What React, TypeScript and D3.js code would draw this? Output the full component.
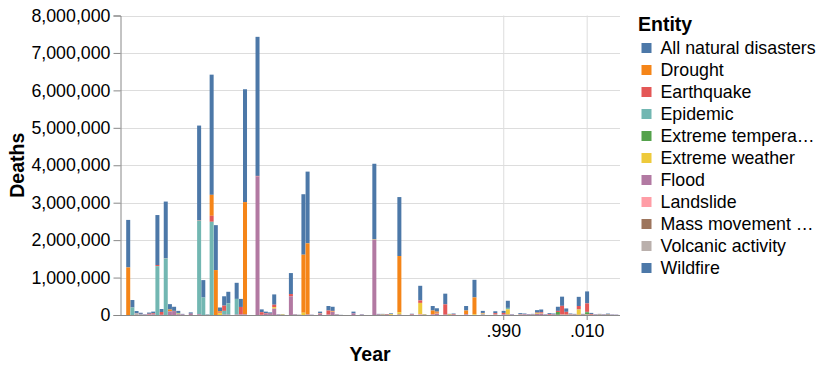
import React, { useRef, useEffect } from 'react';
import * as d3 from 'd3';

type Pair = [number, number];

const entities = [
  'All natural disasters', 'Drought', 'Earthquake', 'Epidemic', 'Extreme temperature',
  'Extreme weather', 'Flood', 'Landslide', 'Mass movement (dry)', 'Volcanic activity', 'Wildfire',
];
const legendLabels = [
  'All natural disasters', 'Drought', 'Earthquake', 'Epidemic', 'Extreme tempera…',
  'Extreme weather', 'Flood', 'Landslide', 'Mass movement …', 'Volcanic activity', 'Wildfire',
];
const colors = [
  '#4c78a8', '#f58518', '#e45756', '#72b7b2', '#54a24b',
  '#eeca3b', '#b279a2', '#ff9da6', '#9d755d', '#bab0ac', '#4c78a8',
];

const years = d3.range(1900, 2018);
const yTicks = [0, 1000000, 2000000, 3000000, 4000000, 5000000, 6000000, 7000000, 8000000];
const xTickYears = [1990, 2010];
const xTickLabels = ['.990', '.010'];

// deaths per year, [year, deaths]; missing years are zero
const allNaturalDisasters: Pair[] = [
  [1900, 1270000], [1901, 200000], [1902, 53000], [1903, 30000], [1904, 10000], [1905, 33000],
  [1906, 45000], [1907, 1335000], [1908, 80000], [1909, 1515000], [1910, 145000], [1911, 110000],
  [1912, 55000], [1913, 15000], [1915, 35000], [1917, 2530000], [1918, 466000], [1919, 10000],
  [1920, 3210000], [1921, 1200000], [1922, 100000], [1923, 250000], [1924, 310000], [1926, 430000],
  [1927, 215000], [1928, 3015000], [1931, 3715000], [1932, 75000], [1933, 45000], [1934, 35000],
  [1935, 275000], [1936, 10000], [1937, 12000], [1939, 560000], [1940, 10000], [1941, 4000],
  [1942, 1615000], [1943, 1915000], [1944, 5000], [1946, 45000], [1948, 120000], [1949, 110000],
  [1950, 10000], [1951, 3000], [1954, 45000], [1956, 10000], [1959, 2020000], [1960, 15000],
  [1961, 15000], [1962, 12000], [1963, 22000], [1965, 1575000], [1968, 17000], [1970, 390000],
  [1971, 12000], [1973, 120000], [1974, 90000], [1976, 285000], [1977, 15000], [1978, 20000],
  [1981, 120000], [1983, 470000], [1985, 55000], [1988, 50000], [1990, 55000], [1991, 190000],
  [1992, 10000], [1994, 25000], [1995, 20000], [1996, 12000], [1997, 15000], [1998, 65000],
  [1999, 75000], [2000, 10000], [2001, 25000], [2002, 20000], [2003, 110000], [2004, 245000],
  [2005, 90000], [2006, 20000], [2007, 15000], [2008, 245000], [2009, 15000], [2010, 320000],
  [2011, 28000], [2012, 10000], [2013, 15000], [2014, 10000], [2015, 19000], [2016, 8000],
  [2017, 6000],
];
const drought: Pair[] = [
  [1900, 1270000], [1910, 50000], [1920, 560000], [1921, 1200000], [1922, 30000], [1928, 3000000],
  [1942, 1550000], [1943, 1900000], [1965, 1500000], [1973, 100000], [1974, 30000], [1981, 95000],
  [1983, 450000], [1998, 5000],
];
const earthquake: Pair[] = [
  [1902, 8000], [1903, 5000], [1905, 20000], [1906, 20000], [1907, 30000], [1908, 75000],
  [1909, 5000], [1915, 5000], [1917, 10000], [1920, 160000], [1922, 20000], [1923, 140000],
  [1927, 200000], [1931, 15000], [1932, 70000], [1933, 15000], [1934, 10000], [1935, 65000],
  [1939, 60000], [1940, 5000], [1943, 5000], [1946, 10000], [1948, 110000], [1949, 20000],
  [1950, 5000], [1960, 5000], [1962, 12000], [1968, 12000], [1970, 67000], [1973, 10000],
  [1974, 20000], [1976, 275000], [1978, 15000], [1981, 10000], [1985, 10000], [1988, 25000],
  [1990, 40000], [1995, 6000], [1998, 10000], [1999, 25000], [2001, 20000], [2003, 30000],
  [2004, 230000], [2005, 75000], [2006, 6000], [2008, 90000], [2010, 227000], [2011, 20000],
  [2015, 9000],
];
const epidemic: Pair[] = [
  [1901, 200000], [1902, 10000], [1903, 15000], [1907, 1305000], [1909, 1510000], [1912, 10000],
  [1917, 2500000], [1918, 465000], [1919, 5000], [1920, 2490000], [1923, 100000], [1924, 300000],
  [1926, 420000], [1991, 35000], [2010, 10000],
];
const extremeTemperature: Pair[] = [
  [1912, 10000], [1991, 5000], [2002, 5000], [2003, 75000], [2008, 5000], [2010, 57000], [2015, 7000],
];
const extremeWeather: Pair[] = [
  [1906, 5000], [1911, 5000], [1912, 15000], [1922, 50000], [1935, 40000], [1937, 12000],
  [1942, 61000], [1946, 5000], [1949, 10000], [1959, 10000], [1961, 10000], [1963, 20000],
  [1965, 60000], [1970, 300000], [1971, 12000], [1974, 10000], [1977, 15000], [1983, 20000],
  [1985, 15000], [1988, 10000], [1991, 140000], [1994, 10000], [1997, 5000], [1998, 20000],
  [1999, 12000], [2004, 5000], [2005, 5000], [2006, 5000], [2007, 5000], [2008, 140000],
  [2009, 5000], [2010, 5000], [2011, 3000], [2013, 8000],
];
const flood: Pair[] = [
  [1902, 5000], [1903, 10000], [1904, 10000], [1905, 10000], [1906, 20000], [1908, 5000],
  [1910, 95000], [1911, 105000], [1912, 20000], [1913, 15000], [1915, 30000], [1917, 20000],
  [1923, 10000], [1924, 10000], [1926, 10000], [1927, 15000], [1928, 15000], [1931, 3700000],
  [1932, 5000], [1933, 30000], [1934, 25000], [1935, 170000], [1936, 10000], [1939, 500000],
  [1940, 5000], [1943, 10000], [1944, 5000], [1946, 30000], [1948, 10000], [1949, 80000],
  [1950, 5000], [1954, 45000], [1956, 10000], [1959, 2010000], [1960, 10000], [1961, 5000],
  [1965, 15000], [1968, 5000], [1970, 10000], [1973, 10000], [1974, 30000], [1976, 10000],
  [1978, 5000], [1981, 15000], [1985, 7000], [1988, 15000], [1990, 15000], [1991, 10000],
  [1992, 10000], [1994, 15000], [1995, 14000], [1996, 12000], [1997, 10000], [1998, 30000],
  [1999, 35000], [2000, 10000], [2001, 5000], [2002, 15000], [2003, 5000], [2004, 10000],
  [2005, 5000], [2006, 9000], [2007, 10000], [2008, 5000], [2009, 10000], [2010, 8000],
  [2011, 5000], [2012, 10000], [2013, 7000], [2014, 10000], [2015, 3000], [2016, 8000],
  [2017, 6000],
];
const landslide: Pair[] = [[1905, 2000], [1963, 2000], [1970, 13000], [2010, 3000]];
const massMovement: Pair[] = [[1941, 4000]];
const volcanicActivity: Pair[] = [[1902, 30000], [1919, 5000], [1951, 3000], [1985, 23000]];
const wildfire: Pair[] = [[1918, 1000], [2009, 200]];

const seriesList: Pair[][] = [
  allNaturalDisasters, drought, earthquake, epidemic, extremeTemperature,
  extremeWeather, flood, landslide, massMovement, volcanicActivity, wildfire,
];

const W = 824;
const H = 372;
const FONT = '"Liberation Sans", Arial, sans-serif';

export default function App() {
  const ref = useRef<SVGSVGElement | null>(null);

  useEffect(() => {
    if (!ref.current) return;
    const svg = d3.select(ref.current);
    svg.selectAll('*').remove();

    const plot = { left: 120, right: 620, top: 15.5, bottom: 315 };

    // one row per year, one column per entity
    const table = years.map(year => {
      const row: Record<string, number> = { year };
      entities.forEach((e, i) => {
        const hit = seriesList[i].find(p => p[0] === year);
        row[e] = hit ? hit[1] : 0;
      });
      return row;
    });

    const x = d3.scaleBand<number>().domain(years).range([126.2, 618.3]).paddingInner(0.04);
    const y = d3.scaleLinear().domain([0, 8000000]).range([plot.bottom, plot.top]);
    const color = d3.scaleOrdinal<string, string>().domain(entities).range(colors);

    // gridlines
    svg.append('g')
      .selectAll('line')
      .data(yTicks)
      .join('line')
      .attr('x1', plot.left).attr('x2', plot.right)
      .attr('y1', d => Math.round(y(d)) + 0.5).attr('y2', d => Math.round(y(d)) + 0.5)
      .attr('stroke', '#ddd');
    svg.append('g')
      .selectAll('line')
      .data(xTickYears)
      .join('line')
      .attr('x1', d => (x(d) ?? 0) + x.step() / 2).attr('x2', d => (x(d) ?? 0) + x.step() / 2)
      .attr('y1', plot.top).attr('y2', plot.bottom)
      .attr('stroke', '#ddd');

    // stacked bars, first entity on top
    const stacked = d3.stack<Record<string, number>>()
      .keys(entities)
      .order(d3.stackOrderReverse)(table);

    svg.append('g')
      .selectAll('g')
      .data(stacked)
      .join('g')
      .attr('fill', d => color(d.key))
      .selectAll('rect')
      .data(d => d.filter(s => s[1] - s[0] > 0))
      .join('rect')
      .attr('x', d => x(d.data.year as number) ?? 0)
      .attr('width', x.bandwidth())
      .attr('y', d => y(d[1]))
      .attr('height', d => y(d[0]) - y(d[1]));

    // y axis
    const yAxis = svg.append('g')
      .attr('transform', `translate(${plot.left + 0.5},0)`)
      .call(d3.axisLeft(y).tickValues(yTicks).tickSize(7).tickPadding(3).tickFormat(d3.format(',')));
    yAxis.selectAll('.domain, .tick line').attr('stroke', '#888');
    yAxis.selectAll('.tick text')
      .attr('fill', '#000')
      .style('font-family', FONT)
      .style('font-size', '17.8px');

    // x axis
    svg.append('line')
      .attr('x1', plot.left).attr('x2', plot.right)
      .attr('y1', plot.bottom + 0.5).attr('y2', plot.bottom + 0.5)
      .attr('stroke', '#888');
    const xt = svg.append('g')
      .selectAll('g')
      .data(xTickYears)
      .join('g')
      .attr('transform', d => `translate(${(x(d) ?? 0) + x.step() / 2},${plot.bottom})`);
    xt.append('line').attr('y2', 5).attr('stroke', '#888');
    xt.append('text')
      .attr('y', 22.3)
      .attr('text-anchor', 'middle')
      .style('font-family', FONT)
      .style('font-size', '17.8px')
      .text((_, i) => xTickLabels[i]);

    // axis titles
    svg.append('text')
      .attr('x', (plot.left + plot.right) / 2)
      .attr('y', 361)
      .attr('text-anchor', 'middle')
      .style('font-family', FONT)
      .style('font-size', '19.5px')
      .style('font-weight', 'bold')
      .text('Year');
    svg.append('text')
      .attr('transform', `translate(24,${(plot.top + plot.bottom) / 2}) rotate(-90)`)
      .attr('text-anchor', 'middle')
      .style('font-family', FONT)
      .style('font-size', '19.5px')
      .style('font-weight', 'bold')
      .text('Deaths');

    // legend
    const legend = svg.append('g').attr('transform', 'translate(638,0)');
    legend.append('text')
      .attr('y', 31)
      .style('font-family', FONT)
      .style('font-size', '19.5px')
      .style('font-weight', 'bold')
      .text('Entity');
    const item = legend.selectAll('g.item')
      .data(entities)
      .join('g')
      .attr('class', 'item')
      .attr('transform', (_, i) => `translate(0,${48 + i * 22})`);
    item.append('rect')
      .attr('x', 3.5).attr('y', -5)
      .attr('width', 10).attr('height', 10)
      .attr('fill', d => color(d));
    item.append('text')
      .attr('x', 22.5)
      .attr('dy', '0.35em')
      .style('font-family', FONT)
      .style('font-size', '17.8px')
      .text((_, i) => legendLabels[i]);
  }, []);

  return (
    <svg ref={ref} width={W} height={H} style={{ position: 'absolute', left: 0, top: 0, background: '#fff' }} />
  );
}
